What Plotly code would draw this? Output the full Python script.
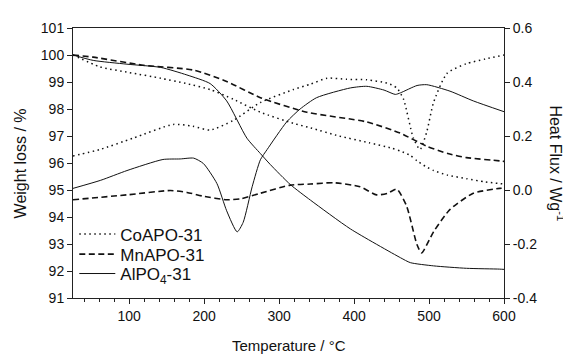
import plotly.graph_objects as go

# ---------------- data ----------------
co_w_t = [25, 61, 100, 142, 175, 208, 239, 275, 319, 342, 380, 420, 450, 462, 475, 484, 495, 506, 525, 550, 575, 600]
co_w = [100, 99.56, 99.35, 99.14, 98.95, 98.72, 98.36, 97.88, 97.47, 97.3, 97.0, 96.75, 96.55, 96.44, 96.28, 96.08, 95.88, 95.72, 95.55, 95.42, 95.3, 95.22]

mn_w_t = [25, 52, 119, 186, 230, 275, 337, 417, 462, 497, 525, 550, 594, 600]
mn_w = [100, 99.92, 99.62, 99.44, 99.02, 98.42, 97.88, 97.52, 97.1, 96.62, 96.35, 96.2, 96.08, 96.06]

al_w_t = [25, 52, 97, 142, 177, 208, 230, 257, 275, 288, 315, 342, 395, 462, 475, 506, 550, 594, 600]
al_w = [100, 99.8, 99.66, 99.54, 99.26, 98.94, 98.3, 96.92, 96.35, 95.95, 95.2, 94.62, 93.56, 92.49, 92.31, 92.19, 92.1, 92.07, 92.06]

co_h_t = [25, 61, 105, 159, 185, 208, 239, 275, 319, 342, 364, 390, 417, 444, 457, 466, 479, 488, 497, 506, 524, 550, 575, 600]
co_h = [0.126, 0.15, 0.192, 0.243, 0.236, 0.222, 0.258, 0.324, 0.372, 0.392, 0.414, 0.41, 0.408, 0.396, 0.378, 0.336, 0.193, 0.15, 0.216, 0.324, 0.432, 0.468, 0.485, 0.5]

mn_h_t = [25, 97, 155, 177, 199, 230, 248, 275, 315, 342, 373, 408, 430, 445, 457, 470, 484, 490, 506, 528, 559, 594, 600]
mn_h = [-0.036, -0.018, -0.002, -0.009, -0.023, -0.036, -0.033, -0.012, 0.018, 0.022, 0.027, 0.012, -0.018, -0.012, 0.003, -0.059, -0.203, -0.233, -0.155, -0.072, -0.012, 0.006, 0.007]

al_h_t = [25, 62, 97, 145, 168, 186, 199, 217, 230, 244, 252, 264, 275, 284, 310, 328, 350, 395, 417, 440, 455, 462, 484, 497, 528, 559, 600]
al_h = [0.006, 0.036, 0.072, 0.113, 0.115, 0.118, 0.098, 0.024, -0.077, -0.155, -0.12, 0.012, 0.112, 0.15, 0.252, 0.3, 0.342, 0.378, 0.384, 0.37, 0.354, 0.36, 0.387, 0.39, 0.366, 0.33, 0.29]

names = ["CoAPO-31", "MnAPO-31", "AlPO<sub>4</sub>-31"]
x_ticks = [100, 200, 300, 400, 500, 600]
y_ticks = [91, 92, 93, 94, 95, 96, 97, 98, 99, 100, 101]
y2_ticks = [-0.4, -0.2, 0.0, 0.2, 0.4, 0.6]
y2_labels = ["-0.4", "-0.2", "0.0", "0.2", "0.4", "0.6"]

# ---------------- figure ----------------
FONT = "Liberation Sans, Arial, sans-serif"
dot = dict(color="#111", width=1.5, dash="1.5px,3.5px")
dash = dict(color="#111", width=1.6, dash="6px,3.5px")
solid = dict(color="#111", width=1.0)
styles = [dot, dash, solid]
legend_ids = ["legend", "legend2", "legend3"]
legend_y = [0.235, 0.161, 0.089]

fig = go.Figure()
weights = [(co_w_t, co_w), (mn_w_t, mn_w), (al_w_t, al_w)]
heats = [(co_h_t, co_h), (mn_h_t, mn_h), (al_h_t, al_h)]
for i in range(3):
    fig.add_trace(go.Scatter(x=weights[i][0], y=weights[i][1], mode="lines", name=names[i],
                             line=dict(styles[i], shape="spline", smoothing=0.6),
                             showlegend=True, legend=legend_ids[i]))
for i in range(3):
    fig.add_trace(go.Scatter(x=heats[i][0], y=heats[i][1], mode="lines", name=names[i],
                             line=dict(styles[i], shape="spline", smoothing=0.6),
                             yaxis="y2", showlegend=False))

axcol = "#222"
legends = {}
for i, lid in enumerate(legend_ids):
    legends[lid] = dict(x=0.003, xanchor="left", y=legend_y[i], yanchor="middle",
                        bgcolor="rgba(0,0,0,0)", font=dict(size=17, family=FONT),
                        itemwidth=36, borderwidth=0)

fig.update_layout(
    width=563, height=346,
    margin=dict(l=65, r=67, t=12, b=56),
    paper_bgcolor="white", plot_bgcolor="white",
    font=dict(family=FONT, size=14, color="#111"),
    showlegend=True,
    xaxis=dict(range=[25, 600], tickvals=x_ticks, showgrid=False, zeroline=False,
               showline=True, linecolor=axcol, linewidth=1, mirror=True,
               ticks="outside", ticklen=5, tickcolor=axcol,
               minor=dict(dtick=20, tick0=0, ticks="outside", ticklen=3, tickcolor=axcol),
               tickfont=dict(size=14)),
    yaxis=dict(range=[91, 101], tickvals=y_ticks, showgrid=False, zeroline=False,
               showline=True, linecolor=axcol, linewidth=1,
               ticks="outside", ticklen=5, tickcolor=axcol, tickfont=dict(size=14)),
    yaxis2=dict(range=[-0.4, 0.6], tickvals=y2_ticks, ticktext=y2_labels, overlaying="y",
                side="right", showgrid=False, zeroline=False,
                showline=True, linecolor=axcol, linewidth=1,
                ticks="outside", ticklen=5, tickcolor=axcol, tickfont=dict(size=14)),
    annotations=[
        dict(text="Temperature / \u00b0C", xref="paper", yref="paper", x=0.5, y=-0.175,
             xanchor="center", yanchor="middle", showarrow=False, font=dict(size=15)),
        dict(text="Weight loss / %", xref="paper", yref="paper", x=-0.122, y=0.5,
             xanchor="center", yanchor="middle", textangle=-90, showarrow=False, font=dict(size=16)),
        dict(text="Heat Flux / Wg<sup>-1</sup>", xref="paper", yref="paper", x=1.122, y=0.5,
             xanchor="center", yanchor="middle", textangle=90, showarrow=False, font=dict(size=16)),
    ],
    **legends,
)
fig.write_html("out.html")
